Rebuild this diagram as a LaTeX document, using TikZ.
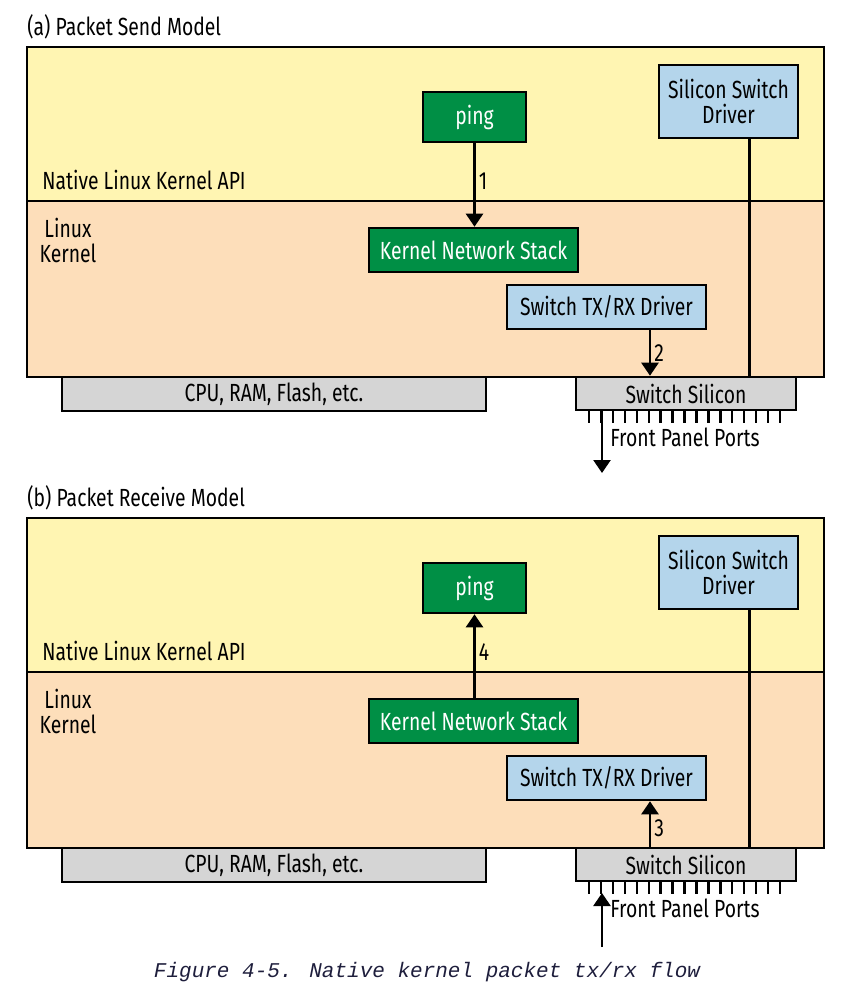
\documentclass[tikz,border=0pt]{standalone}
\usepackage{fontspec}
\setmainfont{Fira Sans}[FakeStretch=0.78]
\newfontfamily\capfont{Liberation Mono}
\usetikzlibrary{arrows.meta, calc}
\definecolor{KnYellow}{RGB}{255,245,178}
\definecolor{KnPeach}{RGB}{253,222,186}
\definecolor{KnGreen}{RGB}{0,143,69}
\definecolor{KnBlue}{RGB}{180,213,235}
\definecolor{KnGray}{RGB}{213,213,213}
\definecolor{KnCap}{RGB}{30,30,60}

\begin{document}
\begin{tikzpicture}[x=0.5pt, y=-0.5pt,
      box/.style={rectangle, draw=black, line width=1.3pt, inner sep=0pt,
                  align=center, font=\fontsize{12.4}{12.5}\selectfont},
      appbox/.style={box, fill=KnGreen, text=white},
      drvbox/.style={box, fill=KnBlue},
      hwbox/.style={box, fill=KnGray},
      lbl/.style={font=\fontsize{12.4}{12.5}\selectfont, inner sep=1.5pt},
      arr/.style={-{Triangle[width=8.5pt,length=6.5pt]}, line width=1.25pt},
      wire/.style={line width=1.3pt}
    ]
    \useasboundingbox (0,0) rectangle (843,993);

    \foreach \p/\o/\t in {a/0/Send, b/471/Receive} {
      % Title
      \node[lbl, anchor=west, inner sep=0pt] (title\p) at (27,27+\o) {(\p) Packet \t\ Model};

      % Layers: kernel API and kernel
      \fill[KnYellow] (27,47+\o) rectangle (824,201+\o);
      \fill[KnPeach] (27,201+\o) rectangle (824,377+\o);
      \draw[wire] (27,201+\o) -- (824,201+\o);
      \draw[wire] (27,47+\o) rectangle (824,377+\o);
      \node[lbl, anchor=west] (api\p) at (39,180+\o) {Native Linux Kernel API};
      \node[lbl, align=center] (kern\p) at (68,240+\o) {Linux\\Kernel};

      % Software blocks
      \node[appbox, minimum width=51.5pt, minimum height=25pt] (ping\p) at (474.5,117+\o) {ping};
      \node[drvbox, minimum width=69.5pt, minimum height=36.5pt] (ssd\p) at (728.5,101.5+\o) {Silicon Switch\\Driver};
      \node[appbox, minimum width=104.5pt, minimum height=22pt] (kns\p) at (473.5,250+\o) {Kernel Network Stack};
      \node[drvbox, minimum width=99.5pt, minimum height=22pt] (txrx\p) at (606.5,307+\o) {Switch TX/RX Driver};

      % Hardware
      \node[hwbox, minimum width=212pt, minimum height=17pt] (cpu\p) at (274,394+\o) {CPU, RAM, Flash, etc.};
      \node[hwbox, minimum width=110pt, minimum height=16.5pt] (sil\p) at (686,393.5+\o) {Switch Silicon};
      \foreach \k in {0,...,16} {
        \draw[line width=1.2pt] (589+11.94*\k,411+\o) -- (589+11.94*\k,423+\o);
      }
      \node[lbl, anchor=west, inner sep=0pt] (fpp\p) at (610,437+\o) {Front Panel Ports};

      % Driver to silicon
      \draw[wire] ([xshift=-25pt]ssd\p.south east) -- ([xshift=-25pt]ssd\p.south east |- sil\p.north);
    }

    % Send path
    \draw[arr] (pinga) -- node[lbl, right, yshift=2pt] {1} (pinga |- knsa.north);
    \draw[arr] ([xshift=21.75pt]txrxa.south) -- node[lbl, right] {2} ([xshift=21.75pt]txrxa.south |- sila.north);
    \coordinate (outa) at (602,473);
    \draw[arr] (sila.south -| outa) -- (outa);

    % Receive path
    \coordinate (inb) at (602,947);
    \draw[arr] (inb) -- (602,893);
    \draw[arr] ([xshift=21.75pt]txrxb.south |- silb.north) -- node[lbl, right, yshift=-2pt] {3} ([xshift=21.75pt]txrxb.south);
    \draw[arr] (knsb.north -| pingb) -- node[lbl, right, yshift=2pt] {4} (pingb);

    % Caption
    \node[font=\capfont\itshape\fontsize{10.5}{12}\selectfont, text=KnCap] (caption) at (427,972)
      {Figure 4-5. Native kernel packet tx/rx flow};
  \end{tikzpicture}
\end{document}
